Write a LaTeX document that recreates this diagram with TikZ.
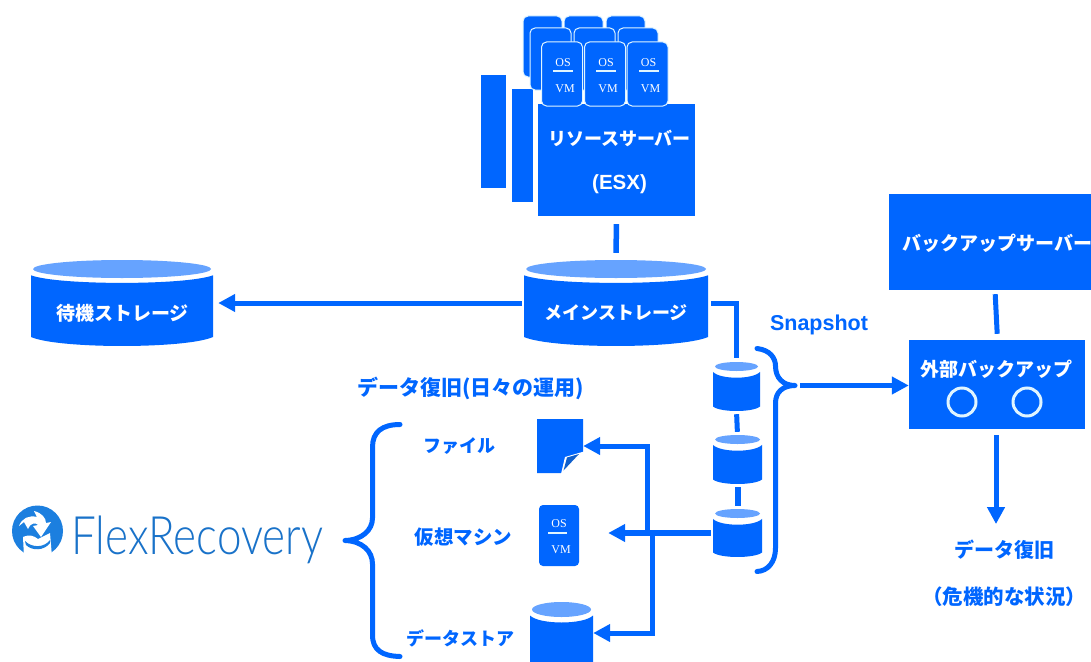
\documentclass[tikz,border=0pt]{standalone}
\usepackage{fontspec}
\usetikzlibrary{arrows.meta,calc}
\newfontfamily\cjk{Noto Sans CJK JP}
\newfontfamily\lsans{Liberation Sans}
\newfontfamily\lserif{Liberation Serif}
\newfontfamily\logofont{Lato Light}
\definecolor{mainblue}{HTML}{0066FF}
\definecolor{lightblue}{HTML}{66A3FF}
\definecolor{foldblue}{HTML}{0F5FCC}
\definecolor{logoblue}{HTML}{1C7FDF}
\definecolor{ringwhite}{HTML}{E0F5FF}
\tikzset{
  conn/.style={draw=mainblue,line width=5pt},
  arrowconn/.style={conn,-{Triangle[length=17pt,width=17pt]}},
  bracket/.style={conn,line cap=round,line join=round},
  bluebox/.style={fill=mainblue,draw=none,inner sep=0pt,anchor=center},
  wlabel/.style={text=white,font=\cjk\bfseries\fontsize{18}{20}\selectfont,inner sep=0pt},
  blabel/.style={text=mainblue,font=\cjk\bfseries\fontsize{18}{20}\selectfont,inner sep=0pt},
  vmtext/.style={text=white,font=\lserif\fontsize{12}{12}\selectfont,inner sep=0pt},
  vmcard/.style={fill=mainblue,draw=ringwhite,line width=1pt,rounded corners=5pt},
  ghost/.style={inner sep=0pt,anchor=center},
}
% name x1 x2 ytop ybot ellipse-height text
\newcommand{\cylshape}[7]{%
  \pgfmathsetmacro{\cw}{#3-#2}\pgfmathsetmacro{\ch}{#5-#4}%
  \pgfmathsetmacro{\cmx}{(#2+#3)/2}\pgfmathsetmacro{\cmy}{(#4+#5)/2}%
  \pgfmathsetmacro{\cry}{#6/2}%
  \pgfmathsetmacro{\cey}{#4+#6/2}%
  \pgfmathsetmacro{\cbt}{#4+0.6*#6+4.5}%
  \pgfmathsetmacro{\cctt}{\cbt+(0.2*#6+4)/0.75}%
  \pgfmathsetmacro{\csb}{#5-#6*0.5}%
  \pgfmathsetmacro{\cctl}{#5+#6*0.5*0.33}%
  \fill[lightblue] (\cmx,\cey) ellipse [x radius={\cw/2-2},y radius=\cry];
  \fill[mainblue] (#2,\cbt) .. controls (#2+\cw*0.15,\cctt) and (#3-\cw*0.15,\cctt) .. (#3,\cbt)
     -- (#3,\csb) .. controls (#3-\cw*0.15,\cctl) and (#2+\cw*0.15,\cctl) .. (#2,\csb) -- cycle;
  \node[ghost,minimum width=\cw pt,minimum height=\ch pt] (#1) at (\cmx,\cmy) {};
}
\newcommand{\vmfront}[2]{%
  \draw[vmcard] (#2-20.5,42) rectangle (#2+20.5,106);
  \node[vmtext] (#1os) at (#2+1,63) {OS};
  \fill[ringwhite] (#2-9,70.3) rectangle (#2+11,71.6);
  \node[vmtext] (#1vm) at (#2+3,88.5) {VM};
}
\begin{document}
\begin{tikzpicture}[x=1pt,y=-1pt]
\useasboundingbox (0,0) rectangle (1091,661);
\fill[white] (0,0) rectangle (1091,661);
% --- stacked servers
\fill[mainblue] (481,75) rectangle (506,188);
\fill[mainblue] (512,89) rectangle (533,202);
\foreach \a/\b in {523/562,564/603,606/645}{\draw[vmcard] (\a,16) rectangle (\b,77);}
\foreach \a/\b in {530/571,574/615,618/658}{\draw[vmcard] (\a,28) rectangle (\b,90);}
\node[bluebox,minimum width=157pt,minimum height=112pt] (res) at (616.5,160) {};
\vmfront{vma}{562}
\vmfront{vmb}{605}
\vmfront{vmc}{647.5}
\node[wlabel] (restxt) at (619.5,138) {リソースサーバー};
\node[wlabel,font=\lsans\bfseries\fontsize{20.5}{22}\selectfont] (esx) at (619.5,184.5) {(ESX)};
% --- storages
\cylshape{main}{524}{708}{260}{346}{18}{}
\node[wlabel] (maintxt) at (616,313) {メインストレージ};
\cylshape{standby}{31}{213}{260}{346}{18}{}
\node[wlabel,font=\cjk\bfseries\fontsize{19}{20}\selectfont] (standbytxt) at (122.5,313) {待機ストレージ};
\cylshape{snapa}{713}{760}{362}{411}{9}{}
\cylshape{snapb}{713}{762}{435}{484}{9}{}
\cylshape{snapc}{713}{762}{509}{557}{9}{}
\cylshape{dstore}{530}{593}{602}{680}{15}{}
% --- backup
\node[bluebox,minimum width=202pt,minimum height=96pt] (bkserver) at (990,242) {};
\node[wlabel,anchor=west,font=\cjk\bfseries\fontsize{19}{20}\selectfont] (bktxt) at (902,243) {バックアップサーバー};
\node[bluebox,minimum width=176pt,minimum height=89pt] (ext) at (997,384.5) {};
\node[wlabel,font=\cjk\bfseries\fontsize{19}{20}\selectfont] (exttxt) at (996.5,369) {外部バックアップ};
\node[draw=ringwhite,line width=3pt,circle,minimum size=28pt,inner sep=0pt] (ringa) at (962,402) {};
\node[draw=ringwhite,line width=3pt,circle,minimum size=28pt,inner sep=0pt] (ringb) at (1027,402) {};
% --- labels
\node[blabel,font=\lsans\bfseries\fontsize{21.5}{22}\selectfont] (snaplbl) at (819,325) {Snapshot};
\node[blabel,font=\cjk\bfseries\fontsize{21}{22}\selectfont] (daily) at (470.5,388) {データ復旧(日々の運用)};
\node[blabel] (filelbl) at (459,446) {ファイル};
\node[blabel,font=\cjk\bfseries\fontsize{19.5}{22}\selectfont] (vmlbl) at (463.5,537) {仮想マシン};
\node[blabel] (dslbl) at (460.5,638) {データストア};
\node[blabel,font=\cjk\bfseries\fontsize{20}{22}\selectfont] (reclbl) at (1004.5,550) {データ復旧};
\node[blabel,font=\cjk\bfseries\fontsize{20.5}{22}\selectfont] (critlbl) at (1004,597) {（危機的な状況）};
% --- file icon
\node[ghost,minimum width=46pt,minimum height=54pt] (file) at (560,446) {};
\fill[mainblue] (537,419) -- (583,419) -- (583,452) -- (562,473) -- (537,473) -- cycle;
\fill[white] (584,451.5) -- (565,457) -- (561,474) -- (590,474) -- cycle;
\fill[foldblue] (579,454) -- (567,457.5) -- (563.5,470.5) -- cycle;
% --- vm icon
\node[fill=mainblue,rounded corners=4pt,minimum width=40pt,minimum height=61pt,inner sep=0pt] (vmicon) at (559,535.5) {};
\node[vmtext] (vmos) at (559,524) {OS};
\fill[ringwhite] (548,532.3) rectangle (567,534);
\node[vmtext] (vmvm) at (561,550) {VM};
% --- connectors
\draw[conn,line width=5.5pt,shorten <=8pt,shorten >=7pt] (res.south) -- (main.north);
\draw[arrowconn,shorten <=2pt,shorten >=5pt] (main.west) -- (standby.east);
\draw[conn,shorten <=3pt,shorten >=4pt] (main.east) -| (snapa.north);
\draw[conn,shorten <=3pt,shorten >=3pt] (snapa.south) -- (snapb.north);
\draw[conn,line width=6pt,shorten <=3pt,shorten >=3pt] (snapb.south) -- (snapc.north);
\draw[arrowconn,line width=6pt,shorten <=2pt,shorten >=29pt] (snapc.west) -- (vmicon.east |- snapc.west);
\coordinate (branch) at (647,533);
\coordinate (branchlow) at (652,533);
\draw[arrowconn] (branch) |- (file.east);
\draw[arrowconn] (branchlow) |- (dstore.east |- 0,633);
% --- snapshot brace
\coordinate (snaptip) at (795,385.5);
\draw[bracket] (757,348.5) .. controls (770,350) and (775.5,358) .. (775.5,366)
  .. controls (775.5,378) and (783,385.5) .. (snaptip)
  .. controls (783,385.5) and (775.5,392) .. (775.5,403)
  -- (775.5,548) .. controls (775.5,562) and (768,571) .. (757,571.5);
\draw[arrowconn,shorten <=5pt] (snaptip) -- (ext.west |- snaptip);
\draw[conn,shorten <=4pt,shorten >=6pt] (bkserver.south -| 995,0) -- (ext.north -| 997.5,0);
\draw[arrowconn,shorten <=6pt,shorten >=16pt] (ext.south -| 996,0) -- (reclbl.north -| 996,0);
% --- left brace
\coordinate (lefttip) at (345,540.5);
\draw[bracket] (400,424.5) .. controls (382,424.5) and (372.5,432) .. (372.5,447)
  -- (372.5,518) .. controls (372.5,530) and (362,540) .. (lefttip)
  .. controls (362,541) and (372.5,551) .. (372.5,564)
  -- (372.5,635) .. controls (372.5,650) and (382,656) .. (400,656.5);
% --- logo
\fill[logoblue] (37.5,531) circle (25.5);
\fill[white] (24,557) -- (23,537) .. controls (30,534) and (34,536) .. (38,539)
  .. controls (42,537) and (46,535) .. (50,533) -- (52,557) -- cycle;
\fill[logoblue] (25,541) .. controls (32,548) and (44,548) .. (50,540) -- (50,543) .. controls (44,551) and (32,551) .. (26,545) -- cycle;
\fill[white] (19,526) .. controls (22,518) and (29,515) .. (37,517) -- (34,511) .. controls (42,513) and (46,518) .. (46,523)
  -- (51,522) -- (41,537) -- (33,526) -- (38,525) .. controls (36,522) and (30,523) .. (28,529) -- (24,522) -- cycle;
\node[inner sep=0pt,anchor=west,text=logoblue!90!black,font=\logofont\fontsize{53}{54}\selectfont,xscale=0.83] (logotxt) at (71,540) {FlexRecovery};
\end{tikzpicture}
\end{document}
